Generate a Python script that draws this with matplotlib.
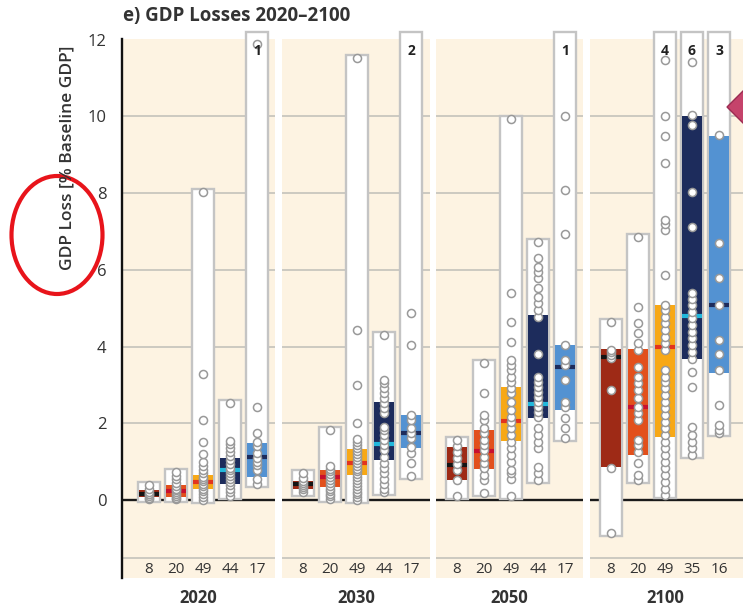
import matplotlib
matplotlib.use("Agg")
import matplotlib.pyplot as plt
from matplotlib.patches import Ellipse, Polygon, Rectangle

plt.rcParams["font.family"] = ["Open Sans", "DejaVu Sans"]

YEARS = ["2020", "2030", "2050", "2100"]
Y_TICKS = [0, 2, 4, 6, 8, 10, 12]

# per year: visible model points, box (lo/hi), median, count, models above 12 %
pts_2020 = [
    [0.02, 0.06, 0.1, 0.15, 0.17, 0.22, 0.3, 0.4],
    [0.02, 0.05, 0.1, 0.16, 0.2, 0.26, 0.3, 0.37, 0.45, 0.55, 0.62, 0.74],
    [0.0, 0.08, 0.17, 0.25, 0.3, 0.37, 0.43, 0.5, 0.55, 0.61, 0.7, 0.78, 0.9, 1.0, 1.2, 1.52, 2.1, 3.28, 8.04],
    [0.1, 0.2, 0.3, 0.4, 0.48, 0.55, 0.62, 0.7, 0.78, 0.85, 0.95, 1.05, 1.15, 1.25, 1.35, 1.45, 1.55, 2.52],
    [0.42, 0.54, 0.78, 0.91, 1.0, 1.11, 1.22, 1.41, 1.52, 1.74, 2.43, 11.9],
]
lo_2020 = [0.08, 0.09, 0.28, 0.43, 0.61]
hi_2020 = [0.27, 0.39, 0.65, 1.11, 1.48]
med_2020 = [0.17, 0.23, 0.46, 0.78, 1.13]
n_2020 = [8, 20, 49, 44, 17]
over_2020 = [0, 0, 0, 0, 1]

pts_2030 = [
    [0.2, 0.28, 0.35, 0.4, 0.45, 0.5, 0.58, 0.7],
    [0.02, 0.1, 0.17, 0.25, 0.3, 0.38, 0.45, 0.52, 0.6, 0.68, 0.75, 0.82, 0.88, 1.83],
    [0.0, 0.08, 0.15, 0.22, 0.3, 0.38, 0.45, 0.52, 0.6, 0.68, 0.75, 0.82, 0.9, 0.98, 1.05, 1.12,
     1.2, 1.28, 1.36, 1.44, 1.52, 1.6, 2.0, 3.0, 4.43, 11.52],
    [0.22, 0.3, 0.43, 0.56, 0.7, 0.83, 0.96, 1.13, 1.3, 1.43, 1.56, 1.7, 1.83, 1.91, 2.26, 2.39,
     2.52, 2.65, 2.78, 2.91, 3.04, 3.13, 4.3],
    [0.63, 0.96, 1.22, 1.39, 1.61, 1.74, 1.87, 2.09, 2.22, 4.04, 4.87],
]
lo_2030 = [0.3, 0.35, 0.65, 1.04, 1.35]
hi_2030 = [0.5, 0.78, 1.32, 2.56, 2.22]
med_2030 = [0.41, 0.61, 0.96, 1.45, 1.74]
n_2030 = [8, 20, 49, 44, 17]
over_2030 = [0, 0, 0, 0, 2]

pts_2050 = [
    [0.1, 0.52, 0.78, 0.95, 1.1, 1.25, 1.4, 1.56],
    [0.19, 0.52, 0.65, 0.83, 0.96, 1.13, 1.3, 1.43, 1.56, 1.74, 1.87, 2.09, 2.22, 2.78, 3.58],
    [0.1, 0.56, 0.7, 0.78, 1.0, 1.17, 1.35, 1.52, 1.7, 1.87, 2.04, 2.17, 2.35, 2.56, 2.78, 2.91,
     3.09, 3.22, 3.39, 3.52, 3.65, 4.13, 4.65, 5.39, 9.93],
    [0.52, 0.7, 0.87, 1.35, 1.52, 1.7, 1.87, 2.17, 2.3, 2.43, 2.56, 2.69, 2.82, 2.96, 3.09, 3.22,
     3.82, 4.78, 4.95, 5.13, 5.3, 5.52, 5.78, 5.95, 6.08, 6.3, 6.72],
    [1.61, 1.87, 2.13, 2.43, 2.56, 3.13, 3.52, 3.65, 4.04, 6.95, 8.08, 10.0],
]
lo_2050 = [0.52, 0.8, 1.55, 2.13, 2.35]
hi_2050 = [1.39, 1.84, 2.94, 4.82, 4.04]
med_2050 = [0.91, 1.29, 2.07, 2.5, 3.46]
n_2050 = [8, 20, 49, 44, 17]
over_2050 = [0, 0, 0, 0, 1]

pts_2100 = [
    [-0.85, 0.83, 2.87, 3.7, 3.78, 3.85, 3.91, 4.65],
    [0.52, 0.65, 0.96, 1.26, 1.43, 1.56, 2.09, 2.26, 2.43, 2.65, 2.87, 3.04, 3.22, 3.48, 3.91,
     4.09, 4.35, 4.61, 5.04, 6.85],
    [0.13, 0.3, 0.48, 0.65, 0.83, 1.0, 1.17, 1.35, 1.52, 1.7, 1.87, 2.04, 2.22, 2.39, 2.56, 2.74,
     2.91, 3.09, 3.22, 3.39, 3.91, 4.09, 4.26, 4.43, 4.61, 4.78, 4.95, 5.08, 5.87, 7.04, 7.21,
     7.3, 8.78, 9.49, 10.0, 11.46],
    [1.17, 1.35, 1.52, 1.7, 1.91, 2.96, 3.35, 3.69, 3.87, 4.04, 4.22, 4.39, 4.56, 4.74, 4.91,
     5.08, 5.23, 5.39, 7.13, 8.04, 9.78, 10.04, 11.43],
    [1.74, 1.83, 1.96, 2.48, 3.39, 3.82, 4.17, 5.08, 5.78, 6.69, 9.52],
]
lo_2100 = [0.87, 1.17, 1.65, 3.69, 3.32]
hi_2100 = [3.93, 3.93, 5.08, 10.01, 9.49]
med_2100 = [3.74, 2.42, 4.0, 4.8, 5.08]
n_2100 = [8, 20, 49, 35, 16]
over_2100 = [0, 0, 4, 6, 3]

BOX_COLORS = ["#9E2A16", "#E2501C", "#F7A816", "#1D2C5C", "#5392D2"]
MED_COLORS = ["#141414", "#C8102E", "#E2341E", "#22B8DC", "#1D2C5C"]
TAN = "#FDF3E2"
GRID = "#CCC9C1"
TXT = "#333333"

W, H = 743, 608
YMIN, YMAX = -2.03, 12.02
STEP = 27.0  # px between columns
BW, CW, PAD = 0.82, 0.74, 0.08

# panel (left px, first column px, right px)
PANELS = [(122, 149, 275), (282, 303, 430), (436, 457, 583), (590, 611, 750)]
TOP, BOT = 39, 578


def fx(x):
    return x / W


def fy(y):
    return 1 - y / H


def draw_panel(ax, pts, lo, hi, med, counts, over):
    ax.set_facecolor(TAN)
    ax.set_ylim(YMIN, YMAX)
    for g in (2, 4, 6, 8, 10, -1.5):
        ax.axhline(g, color=GRID, lw=1.4, zorder=1)
    ax.axhline(0, color="#1a1a1a", lw=1.7, zorder=2)
    for i in range(5):
        vals = pts[i]
        bottom = min(vals) - PAD
        top = 12.2 if over[i] else max(vals) + PAD
        ax.add_patch(Rectangle((i - BW / 2, bottom), BW, top - bottom, facecolor="white",
                               edgecolor="#c4c4c4", lw=1.7, zorder=3, clip_on=False))
        ax.add_patch(Rectangle((i - CW / 2, lo[i]), CW, hi[i] - lo[i],
                               facecolor=BOX_COLORS[i], lw=0, zorder=4))
        ax.plot([i - CW / 2, i + CW / 2], [med[i], med[i]], color=MED_COLORS[i], lw=3,
                solid_capstyle="butt", zorder=4.5)
        ax.plot([i] * len(vals), vals, "o", ms=5.8, mfc="white", mec="#999999", mew=1.1,
                zorder=5, clip_on=False)
        ax.text(i, -1.8, str(counts[i]), ha="center", va="center", fontsize=11, color=TXT)
        if over[i]:
            ax.text(i, 11.72, str(over[i]), ha="center", va="center", fontsize=10,
                    fontweight="bold", color="#222222", zorder=6)
    for s in ax.spines.values():
        s.set_visible(False)
    ax.set_xticks([])
    ax.tick_params(axis="y", length=0)


fig = plt.figure(figsize=(W / 100, H / 100), dpi=100)

all_pts = [pts_2020, pts_2030, pts_2050, pts_2100]
all_lo = [lo_2020, lo_2030, lo_2050, lo_2100]
all_hi = [hi_2020, hi_2030, hi_2050, hi_2100]
all_med = [med_2020, med_2030, med_2050, med_2100]
all_n = [n_2020, n_2030, n_2050, n_2100]
all_over = [over_2020, over_2030, over_2050, over_2100]

for k, (left, first, right) in enumerate(PANELS):
    ax = fig.add_axes([fx(left), fy(BOT), fx(right - left), (BOT - TOP) / H])
    ax.set_xlim((left - first) / STEP, (right - first) / STEP)
    draw_panel(ax, all_pts[k], all_lo[k], all_hi[k], all_med[k], all_n[k], all_over[k])
    if k == 0:
        ax.set_yticks(Y_TICKS)
        ax.set_yticklabels([str(t) for t in Y_TICKS], fontsize=12, color=TXT)
        ax.tick_params(axis="y", pad=11)
        ax.spines["left"].set_visible(True)
        ax.spines["left"].set_color("#111111")
        ax.spines["left"].set_linewidth(1.7)
    else:
        ax.set_yticks([])
    fig.text(fx((left + min(right, 740)) / 2), fy(598), YEARS[k], ha="center", va="center",
             fontsize=12, fontweight="bold", color=TXT)

fig.text(fx(123), fy(16), "e) GDP Losses 2020–2100", ha="left", va="center",
         fontsize=13.5, fontweight="bold", color=TXT)
fig.text(fx(67), fy(158), "GDP Loss [% Baseline GDP]", rotation=90, ha="center",
         va="center", fontsize=12.5, fontweight="semibold", color=TXT)

# annotation marks present on the reference image
fig.patches.append(Ellipse((fx(57), fy(235)), fx(91), 118 / H, transform=fig.transFigure,
                           fill=False, edgecolor="#E8141B", lw=3))
fig.patches.append(Polygon([(fx(727), fy(107)), (fx(750), fy(84)), (fx(773), fy(107)),
                            (fx(750), fy(130))], closed=True, transform=fig.transFigure,
                           facecolor="#C5436B", edgecolor="#9B2C52", lw=1))

fig.savefig("out.png", dpi=100)
